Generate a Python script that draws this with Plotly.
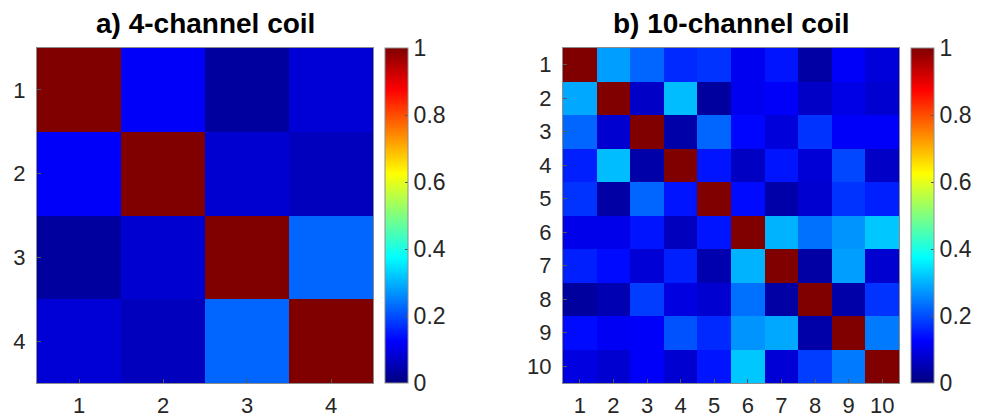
import plotly.graph_objects as go

# ---- data ----
channels_a = [1, 2, 3, 4]
corr_a = [
    [1.00, 0.12, 0.03, 0.085],
    [0.12, 1.00, 0.08, 0.06],
    [0.03, 0.08, 1.00, 0.225],
    [0.085, 0.06, 0.225, 1.00],
]

channels_b = [1, 2, 3, 4, 5, 6, 7, 8, 9, 10]
corr_b = [
    [1.00, 0.28, 0.225, 0.165, 0.175, 0.11, 0.145, 0.035, 0.12, 0.09],
    [0.29, 1.00, 0.07, 0.31, 0.03, 0.11, 0.12, 0.07, 0.10, 0.08],
    [0.225, 0.08, 1.00, 0.04, 0.225, 0.13, 0.09, 0.175, 0.12, 0.12],
    [0.155, 0.31, 0.04, 1.00, 0.145, 0.065, 0.145, 0.085, 0.195, 0.07],
    [0.175, 0.035, 0.225, 0.145, 1.00, 0.135, 0.04, 0.08, 0.175, 0.155],
    [0.105, 0.105, 0.145, 0.06, 0.145, 1.00, 0.30, 0.235, 0.27, 0.32],
    [0.155, 0.135, 0.085, 0.155, 0.045, 0.30, 1.00, 0.035, 0.28, 0.08],
    [0.03, 0.05, 0.185, 0.095, 0.08, 0.235, 0.035, 1.00, 0.04, 0.175],
    [0.135, 0.115, 0.12, 0.205, 0.165, 0.27, 0.29, 0.04, 1.00, 0.245],
    [0.095, 0.08, 0.12, 0.08, 0.145, 0.32, 0.085, 0.185, 0.245, 1.00],
]

cbar_ticks = [0, 0.2, 0.4, 0.6, 0.8, 1]
cbar_labels = ["0", "0.2", "0.4", "0.6", "0.8", "1"]
titles = ["a) 4-channel coil", "b) 10-channel coil"]

# MATLAB-like jet
jet = [
    [0.0, "rgb(0,0,128)"],
    [0.125, "rgb(0,0,255)"],
    [0.375, "rgb(0,255,255)"],
    [0.625, "rgb(255,255,0)"],
    [0.875, "rgb(255,0,0)"],
    [1.0, "rgb(128,0,0)"],
]

W, H = 988, 419
FONT = "Arial, Liberation Sans, sans-serif"
TXT = "#262626"

top_px, bot_px = 48, 383
ydom = [(H - bot_px) / H, (H - top_px) / H]
panels = [
    dict(x0=37, x1=373, cb=385, ch=channels_a, z=corr_a),
    dict(x0=563, x1=899, cb=911, ch=channels_b, z=corr_b),
]

fig = go.Figure()
for i, p in enumerate(panels):
    sfx = "" if i == 0 else "2"
    fig.add_trace(go.Heatmap(
        z=p["z"], x=p["ch"], y=p["ch"],
        zmin=0, zmax=1, colorscale=jet,
        xaxis="x" + sfx, yaxis="y" + sfx,
        hoverinfo="skip",
        colorbar=dict(
            x=p["cb"] / W, xanchor="left", xref="paper",
            y=(H - top_px) / H, yanchor="top", yref="paper",
            len=bot_px - top_px, lenmode="pixels",
            thickness=23, thicknessmode="pixels",
            outlinecolor="#8c8c8c", outlinewidth=1,
            tickvals=cbar_ticks, ticktext=cbar_labels,
            ticks="inside", ticklen=3, tickcolor="#555555",
            tickfont=dict(family=FONT, size=23, color=TXT),
            xpad=0, ypad=0,
        ),
    ))
    n = len(p["ch"])
    axstyle = dict(
        showline=True, mirror=True, linecolor="#8c8c8c", linewidth=1,
        ticks="inside", ticklen=4, tickcolor="#555555",
        tickfont=dict(family=FONT, size=22, color=TXT),
        showgrid=False, zeroline=False,
        tickvals=p["ch"], ticktext=[str(c) for c in p["ch"]],
    )
    fig.layout["xaxis" + sfx] = dict(
        domain=[p["x0"] / W, p["x1"] / W], anchor="y" + sfx,
        range=[0.5, n + 0.5], ticklabelstandoff=3, **axstyle)
    fig.layout["yaxis" + sfx] = dict(
        domain=ydom, anchor="x" + sfx,
        range=[n + 0.5, 0.5], ticklabelstandoff=6, **axstyle)
    fig.add_annotation(
        text="<b>" + titles[i] + "</b>", xref="paper", yref="paper",
        x=(p["x0"] + p["x1"]) / 2 / W, y=(H - 23) / H,
        xanchor="center", yanchor="middle", showarrow=False,
        font=dict(family=FONT, size=28, color="#000000"),
    )

fig.update_layout(
    width=W, height=H, autosize=False,
    margin=dict(l=0, r=0, t=0, b=0, autoexpand=False),
    paper_bgcolor="white", plot_bgcolor="white",
)

fig.write_html(
    "out.html",
    config={"displayModeBar": False},
    post_script="document.body.style.margin='0';document.body.style.overflow='hidden';",
)
